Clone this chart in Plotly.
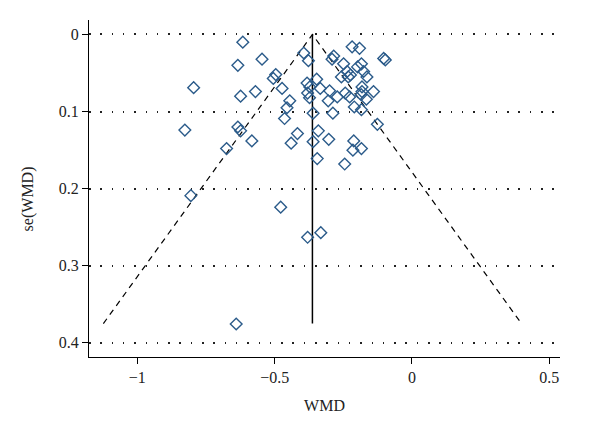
import plotly.graph_objects as go

# --- study estimates ---
wmd = [
    -0.616, -0.546, -0.634, -0.505, -0.496, -0.795, -0.570, -0.624, -0.827, -0.634,
    -0.624, -0.583, -0.675, -0.805, -0.478, -0.380, -0.332, -0.640, -0.245, -0.345,
    -0.394, -0.377, -0.218, -0.191, -0.285, -0.291, -0.249, -0.097, -0.103, -0.184,
    -0.198, -0.236, -0.224, -0.257, -0.176, -0.164, -0.382, -0.347, -0.372, -0.380,
    -0.373, -0.182, -0.182, -0.185, -0.140, -0.300, -0.334, -0.473, -0.445, -0.455,
    -0.464, -0.305, -0.360, -0.288, -0.272, -0.227, -0.243, -0.166, -0.210, -0.184,
    -0.126, -0.417, -0.440, -0.341, -0.360, -0.303, -0.212, -0.184, -0.215, -0.232,
]
se_wmd = [
    0.010, 0.032, 0.040, 0.057, 0.052, 0.069, 0.074, 0.080, 0.124, 0.120,
    0.125, 0.138, 0.148, 0.209, 0.224, 0.263, 0.257, 0.3755, 0.168, 0.161,
    0.024, 0.034, 0.016, 0.018, 0.028, 0.032, 0.038, 0.033, 0.031, 0.038,
    0.042, 0.048, 0.0525, 0.055, 0.048, 0.055, 0.063, 0.058, 0.068, 0.076,
    0.082, 0.068, 0.074, 0.078, 0.074, 0.073, 0.070, 0.070, 0.086, 0.095,
    0.109, 0.086, 0.102, 0.102, 0.081, 0.081, 0.076, 0.084, 0.094, 0.0975,
    0.1165, 0.1285, 0.141, 0.125, 0.139, 0.136, 0.138, 0.148, 0.150, 0.055,
]

# pooled estimate and pseudo confidence limits
pooled = -0.3625
se_max = 0.375
z_limit = 2.03

x_ticks = [-1, -0.5, 0, 0.5]
y_ticks = [0, 0.1, 0.2, 0.3, 0.4]

serif = "Liberation Serif"
marker_color = "#2b5b8a"

fig = go.Figure()

# pseudo 95% limits (dashed)
fig.add_trace(go.Scatter(
    x=[pooled - z_limit * se_max, pooled, pooled + z_limit * se_max],
    y=[se_max, 0, se_max],
    mode="lines", line=dict(color="black", width=1.2, dash="6px,5px"),
    hoverinfo="skip", showlegend=False,
))
# pooled WMD (solid)
fig.add_trace(go.Scatter(
    x=[pooled, pooled], y=[0, se_max],
    mode="lines", line=dict(color="black", width=1.5),
    hoverinfo="skip", showlegend=False,
))
# studies
fig.add_trace(go.Scatter(
    x=wmd, y=se_wmd, mode="markers",
    marker=dict(symbol="diamond-open", size=9, color=marker_color,
                line=dict(width=1.4, color=marker_color)),
    showlegend=False,
))

# y title as annotation so it can sit a little below the centre, like the original
fig.add_annotation(
    text="se(WMD)", xref="paper", yref="paper", x=-0.13, y=0.47,
    textangle=-90, showarrow=False, xanchor="center", yanchor="middle",
    font=dict(family=serif, size=16, color="#222"),
)

# page body adds an 8px margin, so the figure is 8px smaller and shifted
fig.update_layout(
    width=592, height=435,
    margin=dict(l=81, r=40, t=12, b=86),
    plot_bgcolor="white", paper_bgcolor="white",
    font=dict(family=serif, size=16, color="#222"),
    xaxis=dict(
        range=[-1.176, 0.539], tickvals=x_ticks,
        showgrid=False, zeroline=False,
        showline=True, linecolor="black", linewidth=1.2,
        ticks="outside", ticklen=6, tickcolor="black", tickwidth=1.2,
        title=dict(text="WMD", standoff=14, font=dict(family=serif, size=16)),
    ),
    yaxis=dict(
        range=[0.4183, -0.0188], tickvals=y_ticks,
        showgrid=True, gridcolor="#222", gridwidth=1.5, griddash="1.5px,9.8px",
        zeroline=False,
        showline=True, linecolor="black", linewidth=1.2,
        ticks="outside", ticklen=6, tickcolor="black", tickwidth=1.2,
    ),
)

fig.write_html("out.html")
